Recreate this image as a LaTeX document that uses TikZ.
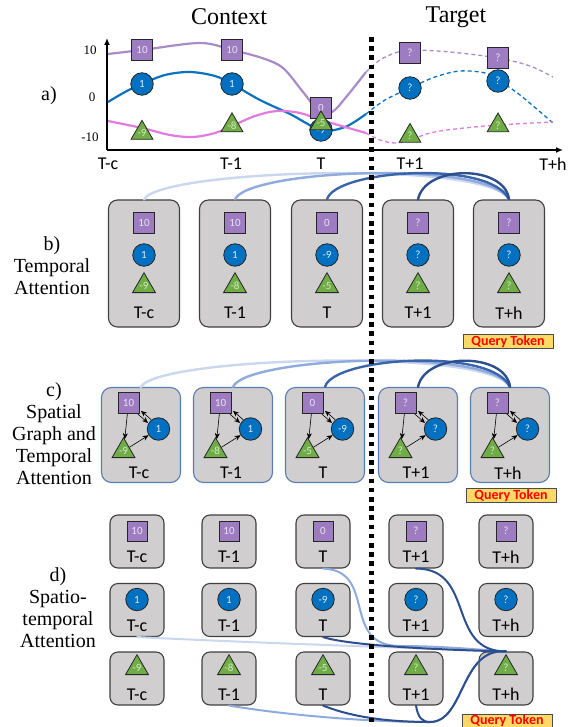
\documentclass[tikz,border=0pt]{standalone}
\usepackage{fontspec}
\setmainfont{Liberation Serif}
\newfontfamily\calib{Carlito}
\usetikzlibrary{shapes.geometric, arrows.meta}

\definecolor{sqfill}{HTML}{9E7CC1}
\definecolor{cifill}{HTML}{0070C0}
\definecolor{trfill}{HTML}{70AD47}
\definecolor{boxfill}{HTML}{D0CECE}
\definecolor{cborder}{HTML}{5A7DB5}
\definecolor{lnpurple}{HTML}{A98BC9}
\definecolor{lnblue}{HTML}{0A72BE}
\definecolor{lnpink}{HTML}{E27BE0}
\definecolor{attA}{HTML}{C9D7EF}
\definecolor{attB}{HTML}{8FAADC}
\definecolor{attC}{HTML}{3C64AA}
\definecolor{attD}{HTML}{2D4F8E}
\definecolor{qfill}{HTML}{FFD966}

\tikzset{
  shp/.style={draw=black!85, line width=0.8, inner sep=0pt, font=\calib\fontsize{11}{11}\selectfont},
  sq/.style={shp, rectangle, fill=sqfill, minimum size=21, text=white!78!sqfill},
  ci/.style={shp, circle, fill=cifill, minimum size=22.5, text=white!88!cifill},
  tr/.style={shp, regular polygon, regular polygon sides=3, fill=trfill, minimum size=26.5, text=white!72!trfill},
  tlab/.style={font=\calib\fontsize{18}{18}\selectfont, inner sep=0pt},
  head/.style={font=\fontsize{24}{24}\selectfont},
  plab/.style={font=\fontsize{20}{22}\selectfont, align=center},
  tick/.style={font=\fontsize{13}{13}\selectfont},
  bbox/.style={draw=black!75, fill=boxfill, rounded corners=9, line width=1.1, minimum width=71, minimum height=127},
  cbox/.style={draw=cborder, fill=boxfill, rounded corners=10, line width=1.1, minimum width=79, minimum height=95},
  dbox/.style={draw=black!75, fill=boxfill, rounded corners=8, line width=1.1, minimum width=54, minimum height=53},
  att/.style={line width=2.4, line cap=round},
  arr/.style={-{Stealth[length=6pt,width=5pt]}, line width=0.6},
  qtok/.style={draw=black!70, fill=qfill, text=red, font=\calib\bfseries\fontsize{14}{14}\selectfont, minimum width=90, minimum height=14, inner sep=0pt},
  curve/.style={line width=2.2, smooth, tension=0.55},
  dcurve/.style={line width=1.3, smooth, tension=0.55, dash pattern=on 4 off 3}
}

\begin{document}
\begin{tikzpicture}[x=1pt, y=-1pt]
\useasboundingbox (0,0) rectangle (584,727);

\node[head] (context) at (229,17) {Context};
\node[head] (target) at (456,17) {Target};

% a) plot
\node[plab] (la) at (49,96) {a)};
\draw[-{Latex[length=7pt,width=6pt]}, line width=1.5] (107,150) -- (107,38);
\draw[-{Latex[length=7pt,width=6pt]}, line width=1.5] (107,150) -- (563,150);
\node[tick] (y10) at (90,50) {10};
\node[tick] (y0) at (92,97) {0};
\node[tick] (ym10) at (90,137) {-10};
\foreach \x/\lab/\n in {108/T-c/1, 231/T-1/2, 321/T/3, 410/T+1/4, 553/T+h/5}
  \node[tlab] (ax\n) at (\x,164) {\lab};

\draw[curve, lnpurple] plot coordinates {(108,54) (142,50) (200,43) (232,50) (262,58) (283,68) (303,92) (318,110) (332,112) (347,96) (366,72)};
\draw[dcurve, lnpurple] plot coordinates {(366,72) (380,60) (395,53) (410,50) (450,52) (498,58) (530,66) (553,77)};
\draw[curve, lnblue] plot coordinates {(108,102) (125,92) (142,84) (165,75) (190,72) (215,76) (232,84) (260,100) (290,114) (321,130) (345,127) (366,114)};
\draw[dcurve, lnblue] plot coordinates {(366,114) (385,100) (410,88) (435,77) (460,71) (485,73) (498,80) (520,95) (553,123)};
\draw[curve, lnpink] plot coordinates {(108,121) (142,128) (170,135) (193,137) (215,133) (232,126) (255,116) (277,111) (300,113) (321,120) (345,127) (366,133)};
\draw[dcurve, lnpink] plot coordinates {(366,133) (380,140) (395,143) (410,140) (430,133) (455,129) (498,125) (553,122)};

\foreach \n/\x/\y/\v in {1/142/50/10, 2/232/50/10, 3/321/108/0, 4/410/53/?, 5/498/58/?}
  \node[sq] (aS\n) at (\x,\y) {\v};
\foreach \n/\x/\y/\v in {1/142/84/1, 2/232/84/1, 3/321/130/-9, 4/410/88/?, 5/498/81/?}
  \node[ci] (aC\n) at (\x,\y) {\v};
\foreach \n/\x/\y/\v in {1/142/133/-9, 2/232/125.5/-8, 3/321/123.5/-5, 4/410/136/?, 5/498/125.5/?}
  \node[tr, minimum size=25] (aG\n) at (\x,\y) {\v};

% b) temporal attention
\node[plab] (lb) at (52,266) {b)\\Temporal\\Attention};
\foreach \i/\x/\lab/\sv/\cv/\gv in {1/144/T-c/10/1/-9, 2/235/T-1/10/1/-8, 3/327/T/0/-9/-5, 4/418/T+1/?/?/?, 5/509/T+h/?/?/?}{
  \node[bbox] (b\i) at (\x,263.5) {};
  \node[sq] (b\i s) at (\x,223) {\sv};
  \node[ci] (b\i c) at (\x,255) {\cv};
  \node[tr] (b\i g) at (\x,286) {\gv};
  \node[tlab] (b\i t) at (\x,313) {\lab};
}
\draw[att, attA] (b1.north) .. controls +(15,-30) and +(-20,-40) .. (b5.north);
\draw[att, attB] (b2.north) .. controls +(12,-30) and +(-20,-40) .. (b5.north);
\draw[att, attC] (b3.north) .. controls +(8,-30) and +(-18,-40) .. (b5.north);
\draw[att, attD] (b4.north) .. controls +(7,-35) and +(-4,-35) .. (b5.north);
\node[qtok] (bq) at (508,341.5) {Query Token};

% c) spatial graph + temporal attention
\node[plab] (lc) at (54,434) {c)\\Spatial\\Graph and\\Temporal\\Attention};
\foreach \i/\x/\lab/\sv/\cv/\gv in {1/141/T-c/10/1/-9, 2/233/T-1/10/1/-8, 3/325/T/0/-9/-5, 4/418/T+1/?/?/?, 5/510/T+h/?/?/?}{
  \node[cbox] (c\i) at (\x,435) {};
  \node[sq] (c\i s) at (\x-12.5,403) {\sv};
  \node[ci] (c\i c) at (\x+17.5,429) {\cv};
  \node[tr] (c\i g) at (\x-17.5,451) {\gv};
  \node[tlab] (c\i t) at (\x-2,473) {\lab};
  \draw[arr] (c\i s) -- (c\i g);
  \draw[arr] (c\i g) -- (c\i c);
  \draw[arr, transform canvas={shift={(1.6,-1.6)}}] (c\i c) -- (c\i s);
  \draw[arr, transform canvas={shift={(-1.6,1.6)}}] (c\i s) -- (c\i c);
}
\draw[att, attA] (c1.north) .. controls +(15,-30) and +(-20,-40) .. (c5.north);
\draw[att, attB] (c2.north) .. controls +(12,-30) and +(-20,-40) .. (c5.north);
\draw[att, attC] (c3.north) .. controls +(8,-30) and +(-18,-40) .. (c5.north);
\draw[att, attD] (c4.north) .. controls +(7,-35) and +(-4,-35) .. (c5.north);
\node[qtok] (cq) at (511,495.5) {Query Token};

% d) spatio-temporal attention
\node[plab] (ld) at (58,608) {d)\\Spatio-\\temporal\\Attention};
\foreach \i/\x/\lab/\sv/\cv/\gv in {1/137/T-c/10/1/-9, 2/229/T-1/10/1/-8, 3/323/T/0/-9/-5, 4/416/T+1/?/?/?, 5/506/T+h/?/?/?}{
  \node[dbox] (d1\i) at (\x,541.5) {};
  \node[sq, minimum size=20] (d1\i s) at (\x,531) {\sv};
  \node[tlab] (d1\i t) at (\x,557) {\lab};
  \node[dbox] (d2\i) at (\x,610) {};
  \node[ci] (d2\i c) at (\x,599.5) {\cv};
  \node[tlab] (d2\i t) at (\x,625.5) {\lab};
  \node[dbox] (d3\i) at (\x,678.5) {};
  \node[tr] (d3\i g) at (\x,668) {\gv};
  \node[tlab] (d3\i t) at (\x,694.5) {\lab};
}
\coordinate (dlow) at (430,722);
\coordinate (dmid) at (400,646);
\draw[att, attA, line width=2] (d21.south) .. controls +(120,6) and +(-80,-3) .. (d35.north);
\draw[att, attB, line width=2] (d32.south) .. controls +(60,10) and +(-60,0) .. (dlow) .. controls +(35,0) and +(-46,-4) .. (d35.north);
\draw[att, attB, line width=2] (d13.south) .. controls +(55,2) and +(-60,0) .. (dmid) .. controls +(40,0) and +(-30,-2) .. (d35.north);
\draw[att, attD, line width=2] (d23.south) .. controls +(25,8) and +(-80,-2) .. (d35.north);
\draw[att, attD, line width=2] (d33.south) .. controls +(30,12) and +(-40,0) .. (dlow) .. controls +(35,0) and +(-46,-4) .. (d35.north);
\draw[att, attD, line width=2] (d34.south) .. controls +(2,12) and +(-8,0) .. (dlow);
\draw[att, attD, line width=2] (d14.south) .. controls +(60,0) and +(-60,0) .. (d35.north);
\node[qtok] (dq) at (507,721) {Query Token};

% context | target divider
\draw[line width=5, dash pattern=on 4.6 off 4.6] (371,37) -- (371,727);
\end{tikzpicture}
\end{document}
